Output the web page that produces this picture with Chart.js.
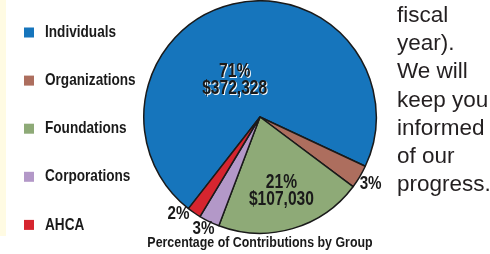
<!DOCTYPE html>
<html>
<head>
<meta charset="utf-8">
<script src="https://cdn.jsdelivr.net/npm/chart.js@4/dist/chart.umd.min.js"></script>
<style>
  html, body { margin: 0; padding: 0; background: #ffffff; }
  #wrap { position: relative; width: 490px; height: 254px; overflow: hidden; }
  #strip { position: absolute; left: 0; top: 0; width: 6px; height: 236px; background: #fffbe3; }
  #side {
    position: absolute; left: 397px; top: 1px; margin: 0;
    font-family: "Liberation Sans", Arial, sans-serif; font-size: 22.5px;
    line-height: 28.2px; color: #231f20; white-space: pre;
  }
  #side span { display: block; }
</style>
</head>
<body>
<div id="wrap">
  <div id="strip"></div>
  <canvas id="pieCanvas" width="490" height="254"></canvas>
  <div id="side"></div>
</div>
<script>
// chart data
let groups = ['Individuals', 'Organizations', 'Foundations', 'Corporations', 'AHCA'];
let amounts = [372328, 17000, 107030, 15000, 10000];
let moneyShown = [true, false, true, false, false];
let groupColors = ['#1675bc', '#ad6e5e', '#8eaa77', '#b398c8', '#d6252f'];
let chartTitle = 'Percentage of Contributions by Group';
let sideLines = ['fiscal', 'year).', 'We will', 'keep you', 'informed', 'of our', 'progress.'];

// label placement: fraction of radius, and angle shift from slice middle (degrees)
let labelRadius = [0.385, 1.11, 0.66, 1.075, 1.086];
let labelShift = [-21, 0, 0, 1, 5.7];

let side = document.getElementById('side');
sideLines.forEach(line => {
    let s = document.createElement('span');
    s.textContent = line;
    side.appendChild(s);
});

// no condensed bold font installed, so squeeze Liberation Sans Bold sideways
const SQUEEZE = 0.8;
function narrowText(ctx, text, x, y, size) {
    ctx.save();
    ctx.font = 'bold ' + size + 'px "Liberation Sans", Arial, sans-serif';
    ctx.translate(x, y);
    ctx.scale(SQUEEZE, 1);
    ctx.fillText(text, 0, 0);
    ctx.restore();
}

function money(v) {
    return '$' + v.toLocaleString('en-US');
}

// legend on the left, drawn by hand so the spacing matches
const sideLegend = {
    id: 'sideLegend',
    afterDraw(chart) {
        let ctx = chart.ctx;
        ctx.save();
        ctx.textBaseline = 'middle';
        ctx.textAlign = 'left';
        groups.forEach((name, i) => {
            let y = 32.5 + i * 48.1;
            ctx.fillStyle = groupColors[i];
            ctx.fillRect(24, y - 5, 10, 10);
            ctx.fillStyle = '#1a1a1a';
            narrowText(ctx, name, 45, y, 17);
        });
        ctx.restore();
    }
};

// percentage / amount labels on the slices
const sliceLabels = {
    id: 'sliceLabels',
    afterDatasetsDraw(chart) {
        let ctx = chart.ctx;
        let meta = chart.getDatasetMeta(0);
        let total = amounts.reduce((a, b) => a + b, 0);
        ctx.save();
        ctx.textAlign = 'center';
        ctx.textBaseline = 'middle';
        meta.data.forEach((arc, i) => {
            let p = arc.getProps(['x', 'y', 'startAngle', 'endAngle', 'outerRadius'], true);
            let mid = (p.startAngle + p.endAngle) / 2 + labelShift[i] * Math.PI / 180;
            let r = p.outerRadius * labelRadius[i];
            let x = p.x + Math.cos(mid) * r;
            let y = p.y + Math.sin(mid) * r;
            let pct = Math.round(amounts[i] / total * 100) + '%';
            ctx.fillStyle = '#1a1a1a';
            if (i === 0) {
                ctx.shadowColor = 'rgba(255,255,255,0.95)';
                ctx.shadowOffsetX = 1;
                ctx.shadowOffsetY = 1;
                ctx.shadowBlur = 0.5;
            } else {
                ctx.shadowColor = 'transparent';
            }
            if (moneyShown[i]) {
                narrowText(ctx, pct, x, y - 8.5, 19.5);
                narrowText(ctx, money(amounts[i]), x, y + 8.5, 19.5);
            } else {
                narrowText(ctx, pct, x, y, 19);
            }
        });
        ctx.restore();

        ctx.save();
        ctx.fillStyle = '#1a1a1a';
        ctx.textAlign = 'center';
        ctx.textBaseline = 'middle';
        narrowText(ctx, chartTitle, 260, 243, 15.5);
        ctx.restore();
    }
};

let ctx = document.getElementById('pieCanvas').getContext('2d');
let pieChart = new Chart(ctx, {
    type: 'pie',
    data: {
        labels: groups,
        datasets: [{
            data: amounts,
            backgroundColor: groupColors,
            borderColor: '#1a1a1a',
            borderWidth: 1.5
        }]
    },
    options: {
        responsive: false,
        animation: false,
        rotation: 218,
        layout: {
            padding: {left: 143, right: 113, top: 0, bottom: 20}
        },
        plugins: {
            legend: {display: false},
            tooltip: {enabled: false}
        }
    },
    plugins: [sideLegend, sliceLabels]
});
</script>
</body>
</html>
